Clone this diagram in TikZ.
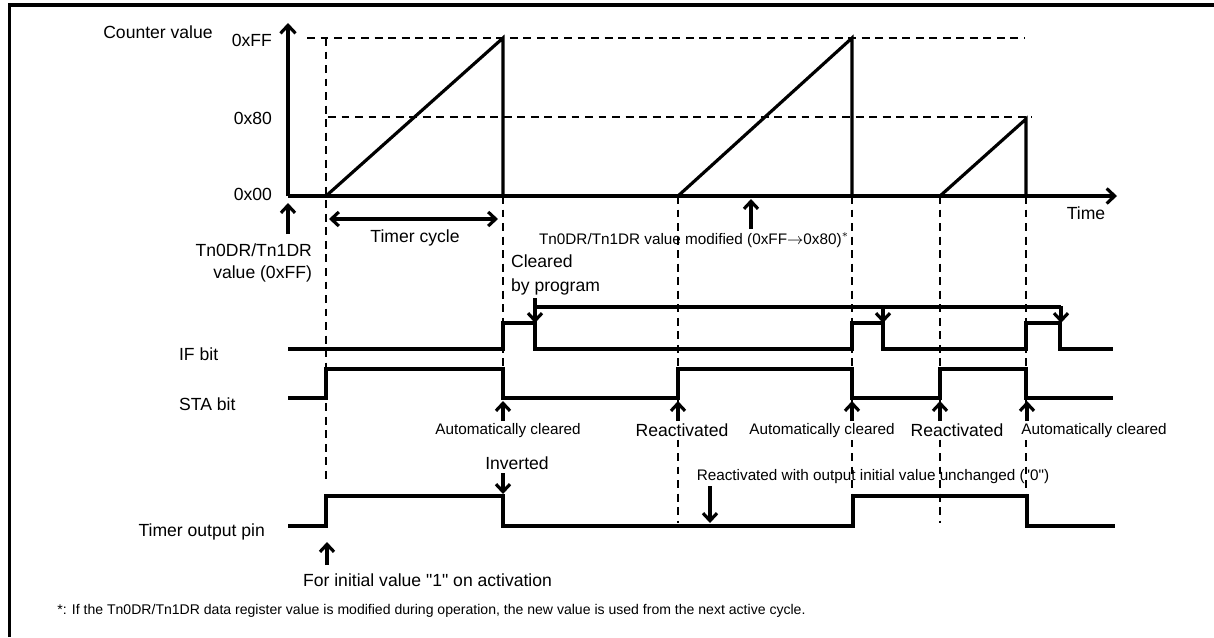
\documentclass[tikz,border=0pt]{standalone}
\usepackage{fontspec}
\setmainfont{Liberation Sans}[Ligatures=TeXOff]
\usetikzlibrary{arrows.meta}
\tikzset{
  sig/.style={line width=1.8pt, line join=miter},
  grd/.style={line width=0.9pt, dash pattern=on 4.5pt off 3.2pt},
  ptr/.style={-{Straight Barb[length=1.5mm,width=2.8mm]}, line width=1.8pt},
  ax/.style={-{Straight Barb[length=1.6mm,width=3mm]}, line width=1.8pt},
  big/.style={font=\fontsize{10}{12.5}\selectfont, inner sep=1pt},
  sml/.style={font=\fontsize{8.7}{10.5}\selectfont, inner sep=1pt},
  msk/.style={fill=white},
}

\begin{document}
\begin{tikzpicture}[x=0.02cm,y=-0.02cm]
  \useasboundingbox (0,0) rectangle (1214,637);
  % --- frame ---
  \draw[line width=1.8pt] (9.5,637) -- (9.5,5) -- (1214,5);

  % --- guide lines ---
  \draw[grd] (307,38) -- (1025,38);
  \draw[grd] (328,117) -- (1032,117);
  \draw[grd] (326,38) -- (326,483);
  \draw[grd] (503,196) -- (503,369);
  \draw[grd] (678,196) -- (678,523);
  \draw[grd] (852,196) -- (852,496);
  \draw[grd] (940,196) -- (940,523);
  \draw[grd] (1026,196) -- (1026,496);

  % --- counter value ---
  \draw[ax] (288,196) -- (288,23);
  \draw[ax] (288,196) -- (1117,196);
  \draw[sig] (326,196) -- (503,38) -- (503,196);
  \draw[sig] (678,196) -- (852,38) -- (852,196);
  \draw[sig] (940,196) -- (1026,119) -- (1026,196);
  \node[big] (cnt) at (158,32) {Counter value};
  \node[big,anchor=east] (vff) at (274,40) {0xFF};
  \node[big,anchor=east] (v80) at (274,118) {0x80};
  \node[big,anchor=east] (v00) at (274,194) {0x00};
  \node[big] (time) at (1086,213) {Time};

  % --- data register ---
  \node[big,anchor=east,align=right] (tdr) at (314,263) {Tn0DR/Tn1DR\\value (0xFF)};
  \draw[ptr] (288,234) -- (288,203);
  \draw[{Straight Barb[length=1.5mm,width=2.8mm]}-{Straight Barb[length=1.5mm,width=2.8mm]}, line width=1.8pt] (329,219) -- (498,219);
  \node[big] (cyc) at (415,238) {Timer cycle};
  \node[sml,anchor=west] (mod) at (537,240) {Tn0DR/Tn1DR value modified (0xFF$\rightarrow$0x80)$^{*}$};
  \draw[ptr] (751,229) -- (751,199);

  % --- IF bit, cleared by program ---
  \node[big,anchor=west,align=left,font=\fontsize{10}{13.5}\selectfont] (clr) at (509,275) {Cleared\\by program};
  \draw[line width=1.8pt] (535,307) -- (1061,307);
  \draw[ptr] (535,298) -- (535,323);
  \draw[ptr] (883,306) -- (883,323);
  \draw[ptr] (1061,306) -- (1061,323);
  \node[big,anchor=west] (ifb) at (177,354) {IF bit};
  \draw[sig] (288,349) -- (503,349) -- (503,323) -- (535,323) -- (535,349)
    -- (852,349) -- (852,323) -- (883,323) -- (883,349)
    -- (1026,349) -- (1026,323) -- (1060,323) -- (1060,349) -- (1113,349);

  % --- STA bit ---
  \node[big,anchor=west] (sta) at (177,404) {STA bit};
  \draw[sig] (288,398) -- (326,398) -- (326,369) -- (503,369) -- (503,398)
    -- (678,398) -- (678,369) -- (852,369) -- (852,398)
    -- (940,398) -- (940,369) -- (1026,369) -- (1026,398) -- (1113,398);
  \node[sml,msk] (ac1) at (508,431) {Automatically cleared};
  \node[big,msk] (ra1) at (682,430) {Reactivated};
  \node[sml,msk] (ac2) at (822,431) {Automatically cleared};
  \node[big,msk] (ra2) at (957,430) {Reactivated};
  \node[sml,msk] (ac3) at (1094,431) {Automatically cleared};
  \foreach \xx in {503,678,852,940,1027}{ \draw[ptr] (\xx,421) -- (\xx,401); }

  % --- timer output pin ---
  \node[big] (inv) at (517,463) {Inverted};
  \draw[ptr] (503,473) -- (503,494);
  \node[sml] (unc) at (873,477) {Reactivated with output initial value unchanged ("0")};
  \draw[ptr] (710,486) -- (710,523);
  \node[big,anchor=east] (pin) at (267,532) {Timer output pin};
  \draw[sig] (288,526) -- (326,526) -- (326,496) -- (503,496) -- (503,526)
    -- (853,526) -- (853,496) -- (1027,496) -- (1027,526) -- (1115,526);
  \draw[ptr] (327,565) -- (327,542);
  \node[big,anchor=west] (ini) at (301,580) {For initial value "1" on activation};

  % --- note ---
  \node[font=\fontsize{8}{10}\selectfont,anchor=west,inner sep=0pt] (note) at (57,611)
    {*: If the Tn0DR/Tn1DR data register value is modified during operation, the new value is used from the next active cycle.};
\end{tikzpicture}
\end{document}
